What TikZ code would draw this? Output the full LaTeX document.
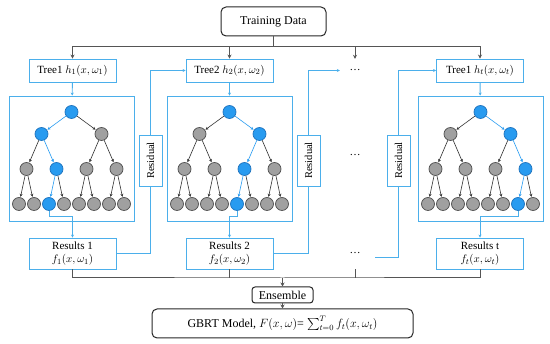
\documentclass[tikz,border=0pt]{standalone}
\usepackage{amsmath,amssymb}
\usepackage{fontspec}
\setmainfont{Liberation Serif}
\usepackage{xcolor}
\usepackage{tikz}
\usetikzlibrary{positioning, arrows.meta}
\definecolor{boxblue}{RGB}{75,175,235}
\definecolor{nodeblue}{RGB}{40,155,240}
\definecolor{rimblue}{RGB}{30,115,190}
\definecolor{nodegray}{RGB}{160,160,160}
\definecolor{rimgray}{RGB}{80,80,80}
\definecolor{linegray}{RGB}{85,85,85}
% one tree: name, centre x, blue index on levels 1, 2 and 3
\newcommand{\gbrtree}[5]{%
    \node[bluenode] (#1-0-0) at (#2,112) {};
    \foreach \i in {0,1} {
        \ifnum\i=#3 \def\nc{bluenode}\def\ec{blueedge}\else\def\nc{graynode}\def\ec{grayedge}\fi
        \node[\nc] (#1-1-\i) at ({#2-30+60*\i},134) {};
        \path (#1-0-0) edge[\ec] (#1-1-\i);
    }
    \foreach \i in {0,...,3} {
        \pgfmathtruncatemacro{\p}{floor(\i/2)}
        \ifnum\i=#4 \def\nc{bluenode}\def\ec{blueedge}\else\def\nc{graynode}\def\ec{grayedge}\fi
        \node[\nc] (#1-2-\i) at ({#2-45+30*\i},169) {};
        \path (#1-1-\p) edge[\ec] (#1-2-\i);
    }
    \foreach \i in {0,...,7} {
        \pgfmathtruncatemacro{\p}{floor(\i/2)}
        \ifnum\i=#5 \def\nc{bluenode}\def\ec{blueedge}\else\def\nc{graynode}\def\ec{grayedge}\fi
        \node[\nc] (#1-3-\i) at ({#2-52.5+15*\i},204) {};
        \path (#1-2-\p) edge[\ec] (#1-3-\i);
    }
}
\tikzset{
    >=Stealth,
    treenode/.style={circle, minimum size=13pt, inner sep=0pt, line width=0.7pt},
    bluenode/.style={treenode, fill=nodeblue, draw=rimblue},
    graynode/.style={treenode, fill=nodegray, draw=rimgray},
    blueedge/.style={->, draw=nodeblue, line width=0.6pt, shorten >=0.5pt, >={Stealth[length=3pt,width=3pt]}},
    grayedge/.style={->, draw=black!80, line width=0.6pt, shorten >=0.5pt, >={Stealth[length=3pt,width=3pt]}},
    bluebox/.style={draw=boxblue, line width=0.9pt, fill=white, inner sep=2pt, font=\fontsize{11}{13}\selectfont},
    treebox/.style={bluebox, minimum width=87pt, minimum height=23pt},
    resultbox/.style={bluebox, minimum width=87pt, minimum height=31pt, align=center, text height=, inner sep=1pt},
    panel/.style={draw=boxblue, line width=0.9pt, minimum width=125pt, minimum height=125pt, inner sep=0pt},
    residual/.style={bluebox, rotate=90, minimum width=51pt, minimum height=23pt, font=\fontsize{10.5}{12}\selectfont},
    blueline/.style={draw=boxblue, line width=0.9pt},
    bluearrow/.style={blueline, ->, >={Stealth[length=3pt,width=3pt]}},
    darkline/.style={draw=linegray, line width=1pt},
    darkarrow/.style={darkline, ->, >={Stealth[length=4pt,width=4pt]}},
    roundbox/.style={draw=black!85, line width=1pt, rounded corners=5pt, font=\fontsize{12}{14}\selectfont},
    dotsnode/.style={minimum width=30pt, minimum height=23pt, inner sep=0pt, font=\fontsize{11}{13}\selectfont},
}

\begin{document}
\begin{tikzpicture}[x=1pt, y=-1pt]
    \useasboundingbox (0,0) rectangle (550,344);

    \node[roundbox, minimum width=105pt, minimum height=29pt] (train) at (273.5,21.5) {Training Data};
    \coordinate (split) at (273.5,47);

    \node[treebox] (tree1) at (72.5,70.5)  {Tree1 $h_1(x,\omega_1)$};
    \node[treebox] (tree2) at (229.5,70.5) {Tree2 $h_2(x,\omega_2)$};
    \node[dotsnode] (dots1) at (355,70.5)  {\dots};
    \node[treebox] (treet) at (480,70.5)   {Tree1 $h_t(x,\omega_t)$};

    \node[panel] (panel1) at (71.5,158.5)  {};
    \node[panel] (panel2) at (229.5,158.5) {};
    \node[dotsnode] (dots2) at (355,155)   {\dots};
    \node[panel] (panelt) at (480.5,158.5) {};

    \gbrtree{ta}{71.5}{0}{1}{2}
    \gbrtree{tb}{229.5}{1}{2}{4}
    \gbrtree{tc}{480.5}{1}{3}{6}

    \node[resultbox] (results1) at (72.5,253.5)  {Results 1\\$f_1(x,\omega_1)$};
    \node[resultbox] (results2) at (229.5,253.5) {Results 2\\$f_2(x,\omega_2)$};
    \node[dotsnode, minimum height=31pt] (dots3) at (355,253.5) {\dots};
    \node[resultbox] (resultst) at (480,253.5)   {Results t\\$f_t(x,\omega_t)$};
    \coordinate (res3in) at (375,257);

    \node[residual] (res1) at (150.5,160.5) {Residual};
    \node[residual] (res2) at (308.5,160.5) {Residual};
    \node[residual] (res3) at (398.5,160.5) {Residual};

    \node[roundbox, rounded corners=3pt, minimum width=61pt, minimum height=16pt, inner sep=0pt] (ensemble) at (282.5,295) {Ensemble};
    \coordinate (merge) at (282.5,278);
    \node[roundbox, minimum width=261pt, minimum height=29pt] (gbrt) at (282.5,323.5)
        {GBRT Model, $F(x,\omega)$= $\sum_{t=0}^{T} f_t(x,\omega_t)$};

    % training data to the trees
    \draw[darkline] (train) -- (split);
    \draw[darkarrow] (split) -| (tree1);
    \draw[darkarrow] (split) -| (tree2);
    \draw[darkarrow] (split) -| (dots1);
    \draw[darkarrow] (split) -| (treet);

    % trees to panels, chosen leaf to results
    \draw[bluearrow] (tree1) -- (panel1);
    \draw[bluearrow] (tree2) -- (panel2);
    \draw[bluearrow] (treet) -- (panelt);
    \draw[bluearrow] (ta-3-2.south) -- ++(0,6) -| (results1);
    \draw[bluearrow] (tb-3-4.south) -- ++(0,6) -| (results2);
    \draw[bluearrow] (tc-3-6.south) -- ++(0,6) -| (resultst);

    % residuals
    \draw[blueline] (results1) -| (res1);
    \draw[bluearrow] (res1) |- (tree2);
    \draw[blueline] (results2) -| (res2);
    \draw[bluearrow] (res2) |- (dots1);
    \draw[blueline] (res3in) -| (res3);
    \draw[bluearrow] (res3) |- (treet);

    % ensemble
    \draw[darkline] (results1) |- (merge) -| (resultst);
    \draw[darkline] (results2) -- (results2 |- merge);
    \draw[darkline] (dots3) -- (dots3 |- merge);
    \draw[darkarrow] (merge) -- (ensemble);
    \draw[darkarrow] (ensemble) -- (gbrt);
\end{tikzpicture}
\end{document}
